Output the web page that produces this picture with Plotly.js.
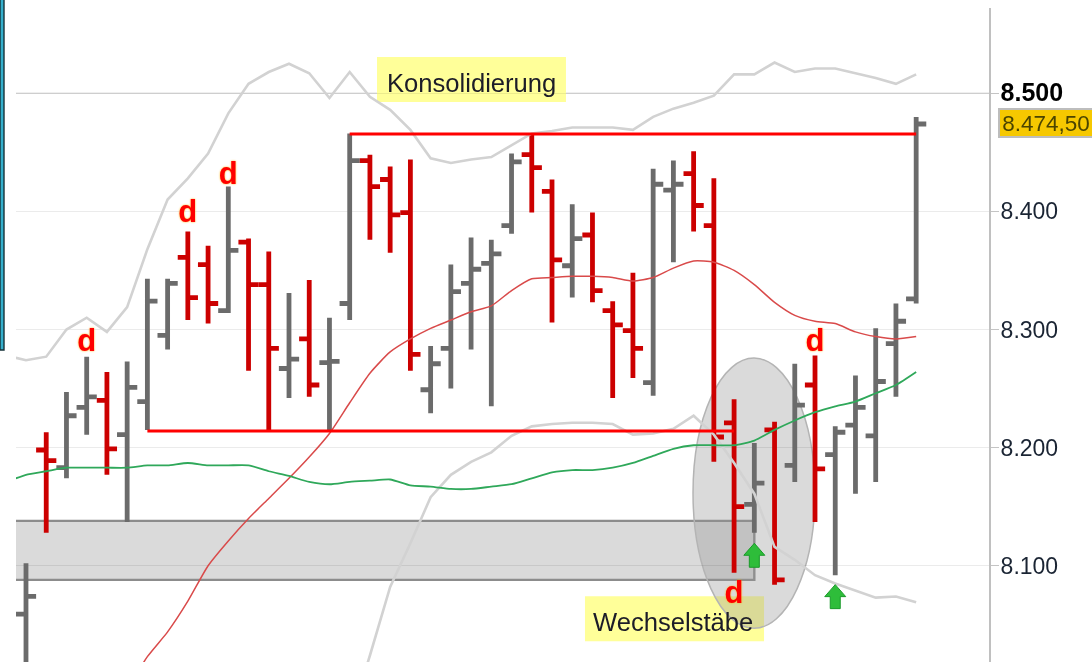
<!DOCTYPE html>
<html>
<head>
<meta charset="utf-8">
<script src="https://cdn.plot.ly/plotly-3.0.1.min.js"></script>
<style>html,body{margin:0;padding:0;background:#fff}#c{width:1092px;height:662px;filter:blur(0.45px)}</style>
</head>
<body>
<div id="c"></div>
<script>
// OHLC bars (session index 0..44)
const highs  = [8.102,8.213,8.247,8.277,8.264,8.273,8.343,8.343,8.383,8.371,8.421,8.377,8.366,8.331,8.342,8.310,8.466,8.448,8.438,8.444,8.286,8.355,8.378,8.376,8.449,8.466,8.427,8.406,8.399,8.324,8.348,8.436,8.443,8.451,8.428,8.241,8.204,8.222,8.271,8.278,8.218,8.261,8.301,8.322,8.480];
const lows   = [8.003,8.128,8.174,8.211,8.177,8.137,8.215,8.283,8.308,8.305,8.314,8.265,8.215,8.242,8.243,8.215,8.308,8.376,8.365,8.265,8.229,8.250,8.283,8.235,8.381,8.399,8.306,8.327,8.323,8.242,8.259,8.244,8.357,8.383,8.188,8.094,8.128,8.084,8.171,8.137,8.092,8.161,8.171,8.243,8.322];
const opens  = [8.059,8.198,8.183,8.234,8.240,8.211,8.239,8.295,8.361,8.355,8.316,8.374,8.338,8.267,8.292,8.272,8.322,8.443,8.427,8.399,8.249,8.284,8.339,8.356,8.388,8.448,8.417,8.354,8.380,8.316,8.299,8.255,8.418,8.432,8.388,8.221,8.152,8.215,8.185,8.253,8.194,8.219,8.210,8.288,8.326];
const closes = [8.074,8.189,8.227,8.243,8.199,8.251,8.324,8.339,8.327,8.322,8.367,8.338,8.284,8.275,8.253,8.273,8.443,8.421,8.397,8.279,8.271,8.332,8.351,8.364,8.442,8.437,8.359,8.377,8.333,8.304,8.284,8.423,8.423,8.405,8.209,8.150,8.170,8.088,8.236,8.182,8.213,8.234,8.256,8.307,8.474];

// Bollinger bands and moving averages
const upperX = [-0.5,0,1,2,3,4,5,6,7,8,9,10,11,12,13,14,15,16,17,18,19,20,21,22,23,24,25,26,27,28,29,30,31,32,33,34,35,36,37,38,39,40,41,42,43,44];
const upperY = [8.276,8.274,8.277,8.300,8.310,8.298,8.319,8.368,8.410,8.428,8.449,8.483,8.508,8.518,8.525,8.517,8.496,8.518,8.497,8.486,8.469,8.445,8.441,8.444,8.446,8.456,8.466,8.468,8.471,8.471,8.471,8.469,8.480,8.487,8.492,8.498,8.516,8.516,8.526,8.518,8.521,8.521,8.517,8.513,8.508,8.516];
const lowerX = [16,17,18,19,20,21,22,23,24,25,26,27,28,29,30,31,32,33,34,35,36,37,38,39,40,41,42,43,44];
const lowerY = [7.969,8.024,8.082,8.119,8.158,8.177,8.188,8.196,8.210,8.218,8.220,8.221,8.221,8.220,8.211,8.212,8.216,8.227,8.211,8.187,8.161,8.116,8.105,8.092,8.085,8.079,8.073,8.074,8.069];
const redMaX = [5,6,7,8,9,10,11,12,13,14,15,16,17,18,19,20,21,22,23,24,25,26,27,28,29,30,31,32,33,34,35,36,37,38,39,40,41,42,43,44];
const redMaY = [7.995,8.023,8.044,8.070,8.100,8.121,8.140,8.157,8.174,8.192,8.212,8.238,8.263,8.281,8.292,8.301,8.308,8.315,8.320,8.333,8.343,8.344,8.345,8.345,8.344,8.341,8.344,8.352,8.358,8.357,8.350,8.338,8.323,8.312,8.307,8.305,8.298,8.294,8.292,8.294];
const greenMaX = upperX;
const greenMaY = [8.174,8.177,8.180,8.183,8.183,8.183,8.183,8.185,8.185,8.187,8.185,8.185,8.185,8.180,8.176,8.171,8.169,8.171,8.172,8.173,8.168,8.167,8.165,8.165,8.167,8.169,8.174,8.179,8.181,8.181,8.183,8.187,8.193,8.199,8.202,8.202,8.202,8.206,8.215,8.223,8.230,8.235,8.239,8.246,8.253,8.264];

// Consolidation range
const resistanceX = [16,44], resistanceY = [8.4655,8.4655];
const supportX = [6,35], supportY = [8.214,8.214];

// Markers
const dX = [3,8,10,35,39];
const dY = [8.288,8.398,8.430,8.075,8.288];
const dLabels = ['d','d','d','d','d'];
const arrowX = [36,40];
const arrowY = [8.119,8.084];

// Zones
const zoneX = [-0.8,36], zoneY = [8.088,8.138];
const ellipseX = [32.97,39.0], ellipseY = [8.0471,8.2758];
const boxKonsX = [17.35,26.69], boxKonsY = [8.4926,8.5307];
const boxWechX = [27.63,36.48], boxWechY = [8.0361,8.0742];

// Axis and labels
const tickVals = [8.1,8.2,8.3,8.4,8.5];
const tickText = ['8.100','8.200','8.300','8.400','<span style="font-size:25px;color:#000000"><b>8.500</b></span>'];
const lastPrice = 8.4745, lastPriceText = '8.474,50';
const FONT = '"Liberation Sans", Arial, sans-serif';

const lineTrace = (x,y,color,width,shape) => ({type:'scatter',mode:'lines',x,y,line:{color,width,shape:shape||'linear',smoothing:0.6},hoverinfo:'skip',showlegend:false});

const data = [
  lineTrace(upperX,upperY,'#d2d2d2',2.6),
  lineTrace(lowerX,lowerY,'#d2d2d2',2.6),
  lineTrace(redMaX,redMaY,'#d94a4a',1.5,'spline'),
  lineTrace(greenMaX,greenMaY,'#2fa85a',1.8,'spline'),
  {type:'ohlc',x:highs.map((_,i)=>i),open:opens,high:highs,low:lows,close:closes,tickwidth:0.5,
   increasing:{line:{color:'#6b6b6b',width:4.8}},decreasing:{line:{color:'#cc0000',width:4.8}},
   hoverinfo:'skip',showlegend:false},
  lineTrace(resistanceX,resistanceY,'#ff0000',3),
  lineTrace(supportX,supportY,'#ff0000',3),
  {type:'scatter',mode:'text',x:dX,y:dY,text:dLabels,textposition:'middle center',
   textfont:{family:FONT,size:31,color:'#ff0000',weight:700,shadow:'0 0 2px #ffb000'},hoverinfo:'skip',showlegend:false}
];

const arrowPath = 'M0,0 L10.5,-12 L5,-12 L5,-24 L-5,-24 L-5,-12 L-10.5,-12 Z';
const shapes = [
  {type:'rect',layer:'below',xref:'x',yref:'y',x0:boxKonsX[0],x1:boxKonsX[1],y0:boxKonsY[0],y1:boxKonsY[1],fillcolor:'#ffff99',line:{width:0}},
  {type:'rect',layer:'below',xref:'x',yref:'y',x0:boxWechX[0],x1:boxWechX[1],y0:boxWechY[0],y1:boxWechY[1],fillcolor:'#ffff99',line:{width:0}},
  {type:'rect',layer:'below',xref:'x',yref:'y',x0:zoneX[0],x1:zoneX[1],y0:zoneY[0],y1:zoneY[1],fillcolor:'#dadada',line:{color:'#8c8c8c',width:2.4}},
  {type:'circle',layer:'below',xref:'x',yref:'y',x0:ellipseX[0],x1:ellipseX[1],y0:ellipseY[0],y1:ellipseY[1],fillcolor:'rgba(150,150,150,0.35)',line:{color:'#b4b4b4',width:1.5}},
  {type:'line',layer:'between',xref:'paper',yref:'y',x0:0,x1:1,y0:8.5,y1:8.5,line:{color:'#e0e0e0',width:1.5}},
  {type:'rect',layer:'above',xref:'paper',yref:'paper',x0:-16/973,x1:-12/973,y0:312/654,y1:1.05,fillcolor:'#35aecb',line:{color:'#163238',width:1.4}}
].concat(arrowX.map((x,i)=>({type:'path',layer:'above',xref:'x',yref:'y',xsizemode:'pixel',ysizemode:'pixel',
  xanchor:x,yanchor:arrowY[i],path:arrowPath,fillcolor:'#2ebd3a',line:{color:'#1a9a2a',width:1}})));

const layout = {
  width:1092,height:662,paper_bgcolor:'#ffffff',plot_bgcolor:'rgba(0,0,0,0)',
  margin:{l:16,r:103,t:8,b:0},showlegend:false,hovermode:false,dragmode:false,
  font:{family:FONT},
  xaxis:{range:[-0.494,47.6],visible:false,rangeslider:{visible:false},fixedrange:true},
  yaxis:{range:[8.0185,8.5722],side:'right',tickvals:tickVals,ticktext:tickText,ticklabelstandoff:-3,
    tickfont:{family:FONT,size:23,color:'#1a2433'},ticks:'outside',ticklen:8,tickcolor:'#c4c4c4',tickwidth:1.5,
    showline:true,linecolor:'#c0c0c0',linewidth:2,showgrid:true,gridcolor:'rgba(0,0,0,0.08)',gridwidth:1.5,
    zeroline:false,fixedrange:true},
  shapes,
  annotations:[
    {xref:'x',yref:'y',x:22.0,y:8.509,text:'Konsolidierung',showarrow:false,xanchor:'center',yanchor:'middle',font:{family:FONT,size:25.6,color:'#1c1c28'}},
    {xref:'x',yref:'y',x:31.98,y:8.052,text:'Wechselstäbe',showarrow:false,xanchor:'center',yanchor:'middle',font:{family:FONT,size:25.6,color:'#1c1c28'}},
    {xref:'paper',yref:'y',x:982/973,y:lastPrice,text:lastPriceText,showarrow:false,xanchor:'left',yanchor:'middle',
     width:92,height:26,align:'center',bgcolor:'#f6c800',bordercolor:'#bdbdbd',borderwidth:2,borderpad:0,font:{family:FONT,size:22.5,color:'#4a4400'}}
  ]
};
Plotly.newPlot('c',data,layout,{displayModeBar:false,staticPlot:true,responsive:false});
</script>
</body>
</html>
